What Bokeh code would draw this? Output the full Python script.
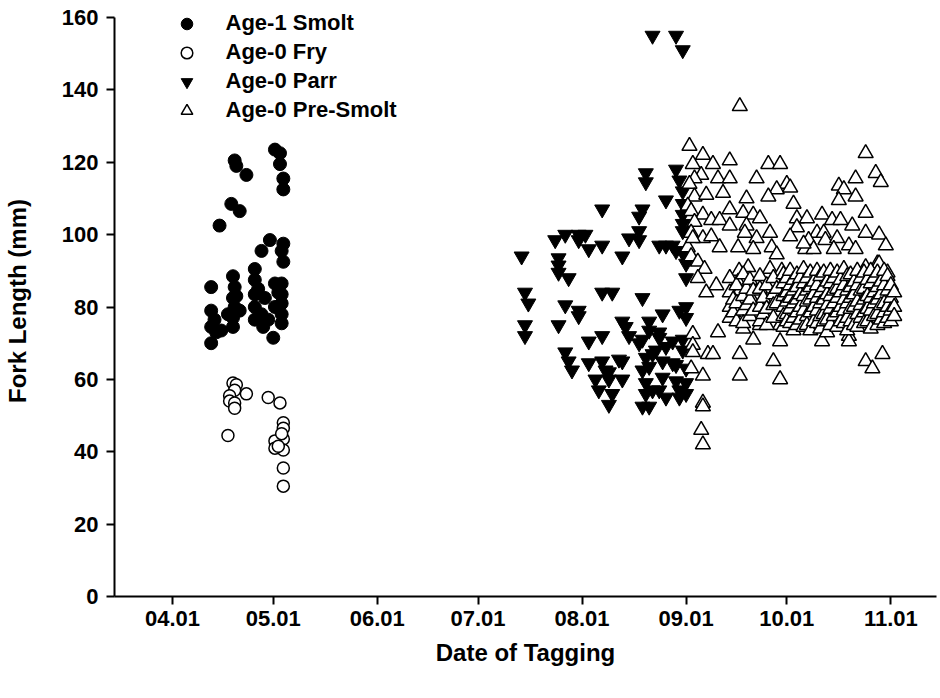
import pandas as pd
from bokeh.plotting import figure
from bokeh.models import Range1d, FixedTicker, Legend, LegendItem
from bokeh.embed import file_html
from bokeh.resources import INLINE

# ---------------- data (x = day of year, y = fork length mm) ----------------
tick_dates = ["2005-04-01", "2005-05-01", "2005-06-01", "2005-07-01",
              "2005-08-01", "2005-09-01", "2005-10-01", "2005-11-01"]
tick_labels = ["04.01", "05.01", "06.01", "07.01", "08.01", "09.01", "10.01", "11.01"]
y_ticks = [0, 20, 40, 60, 80, 100, 120, 140, 160]

smolt_pts = [
    (121.5, 123.5), (123, 122.5), (123, 119.5), (124, 115.5), (124, 112.5),
    (109.5, 120.5), (110, 119), (113, 116.5), (108.5, 108.5), (111, 106.5), (105, 102.5),
    (120, 98.5), (117.5, 95.5), (124, 97.5), (123.5, 95.5), (124, 92.5),
    (102.5, 85.5), (102.5, 79), (102.5, 74.5), (102.5, 70), (103.5, 76.5), (105.5, 73.5),
    (109, 88.5), (109.5, 85.5), (109, 82.5), (109.5, 80), (109, 77), (109, 74.5), (111, 79), (107.5, 78),
    (115.5, 90.5), (115.5, 87.5), (115.5, 83.5), (115.5, 80), (115.5, 76.5), (117.5, 78), (118.5, 82.5),
    (121.5, 86.5), (123.5, 86.5), (123.5, 83.5), (123.5, 81), (123.5, 78), (123.5, 75.5), (121.5, 80),
    (121, 71.5), (119.5, 76.5), (104, 73), (110, 83), (116.5, 85), (122.5, 84), (118, 74.5),
]

fry_pts = [
    (109, 59), (110, 58.5), (109.5, 57), (108, 55.5), (108, 54), (109.5, 53.5), (109.5, 52),
    (113, 56), (107.5, 44.5), (119.5, 55), (123, 53.5), (124, 48), (124, 46.5), (124, 43.5),
    (124, 40.5), (121.5, 43), (121.5, 41), (122.5, 41.5), (124, 35.5), (124, 30.5), (123.5, 45),
]

parr_pts = [
    (195, 94), (196, 84), (197, 81), (196, 75), (196, 72),
    (205, 98.5), (206, 93.5), (206, 91.5), (206, 89.5), (209, 88), (206, 75), (208, 80.5),
    (208, 100), (208, 67.5), (209, 65), (210, 62.5),
    (212, 100), (214, 100), (212, 98.5), (215, 96), (212, 79), (212, 77.5), (215, 70.5), (215, 64.5),
    (219, 97), (219, 107), (219, 84), (222, 84), (219, 72), (219, 65), (217, 60), (218, 57),
    (220, 62.5), (221, 60), (221, 53), (222, 56), (221, 62),
    (225, 94), (227, 99), (225, 76), (226, 74.5), (227, 72), (225, 65), (225, 60), (224, 65.5),
    (230, 98.5), (230, 101), (230, 105), (231, 107), (232, 117), (232, 114.5), (231, 82.5),
    (233, 76), (233, 73.5), (230, 70), (231, 62.5), (232, 59), (231, 52.5), (233, 52.5),
    (234, 57), (234, 67), (233, 63.5), (232, 66), (232, 56), (231, 71), (234, 155),
    (236, 97), (238, 97), (237, 78), (236, 71.5), (238, 69), (237, 65), (237, 60.5), (238, 55),
    (236, 57), (238, 109.5), (236, 73), (235, 68),
    (241, 95.5), (243, 95), (241, 118), (242, 115), (243, 112), (243, 108.5), (243, 105.5),
    (243, 103), (243, 101), (242, 79), (240, 70.5), (240, 64.5), (241, 59.5), (242, 57),
    (243, 68), (243, 71), (241, 155), (243, 151), (244, 80), (244, 77), (244, 63), (244, 59),
    (244, 56), (244, 92), (244, 88), (241, 64), (242, 55), (240, 97),
]

presmolt_pts = [
    (260, 135.5),
    (245, 124.5), (249, 122), (246, 119.5), (252, 119.5), (257, 120.5), (268.5, 119.5), (272, 119.5),
    (297.5, 122.5), (248.5, 116.5), (246.5, 115.5), (253.5, 115.5), (257, 115.5), (265, 115.5),
    (245, 114), (274, 114), (271, 112.5), (275, 113), (246.5, 110.5), (250, 111), (255, 111.5),
    (268.5, 110.5), (262, 110), (276, 108.5), (244.5, 108), (245.5, 106.5), (249, 105.5),
    (251.5, 104), (254, 104), (246.5, 103.5), (257, 107), (261, 106), (264, 105.5), (266, 104.5),
    (277, 104.5), (280, 104.5), (257, 102.5), (262, 102.5), (261.5, 100.5), (245.5, 100.5),
    (249, 99), (251.5, 99.5), (265, 99), (269, 100.5), (277, 102), (275, 99.5),
    (254, 96.5), (244.5, 96.5), (246, 99), (259.5, 96.5), (264, 96), (269.5, 96.5), (271, 94.5),
    (245.5, 94), (247.5, 92.5), (249.5, 90.5), (247.5, 88), (253, 86), (250, 84),
    (294.5, 115.5), (300.5, 117), (302, 114.5), (289.5, 113.5), (291, 112.5), (294.5, 110.5),
    (289.5, 109.5), (297.5, 106), (284.5, 105.5), (287.5, 104), (290, 104), (293.5, 102.5),
    (297.5, 100.5), (301.5, 100), (303.5, 97), (283, 100.5), (285, 100.5), (280.5, 98.5),
    (285.5, 98.5), (289, 99), (292.5, 97), (294.5, 96), (279.5, 96), (282, 96), (288, 96),
    (301, 92), (304, 89.5), (297.5, 91), (301.5, 92), (303.5, 87), (279, 97.5),
    (259.8, 90), (262.5, 91), (259.5, 87), (266, 87), (269, 90.5), (272.5, 90), (260, 84.5),
    (264, 81.5), (269, 82), (272.5, 85.5), (275, 89.5), (276.5, 86.5),
    (246, 72.5), (246, 69.5), (246, 67.5), (250.5, 67), (253.5, 73), (245.5, 63), (249, 61),
    (249, 53.5), (249, 52.5), (248.5, 46), (249, 42),
    (260, 67), (260, 61), (270, 65), (272, 60), (252, 67), (261, 74), (264, 71), (266, 75),
    (272, 70.5), (272, 75), (292.5, 72), (284.5, 70.5), (292.5, 70.5), (297.5, 65), (302.5, 67),
    (299.5, 63),
]

# dense block of pre-smolt tagging days (day of year -> lengths)
presmolt_block = {
    257: [88, 84, 80, 77], 258: [82, 78.5], 259: [86, 81, 76],
    261: [89, 83, 79, 75.5], 262: [85, 80.5], 263: [87.5, 82, 77.5], 264: [84.5, 79],
    266: [88.5, 85, 80, 76], 267: [82.5, 78], 268: [86, 79.5, 75],
    270: [88, 83.5, 80.5, 77], 271: [85, 81],
    273: [89, 86.5, 83, 80, 77.5, 74.5], 274: [88, 84, 81.5, 78, 76],
    275: [90, 86, 82.5, 79.5, 75.5], 276: [87.5, 84.5, 81, 77, 73.5],
    277: [89, 85.5, 82, 78.5, 75], 278: [88, 83.5, 80, 76.5],
    279: [90.5, 86.5, 83, 79, 74.5], 280: [88, 84.5, 81.5, 77.5, 75],
    281: [89.5, 85.5, 82, 78.5, 73.5], 282: [87, 83.5, 80, 76],
    283: [90, 86, 82.5, 79, 75.5], 284: [88.5, 84, 81, 77.5, 74],
    285: [89.5, 85.5, 82, 78, 76], 286: [87, 83.5, 80.5, 76.5, 73],
    287: [90, 86.5, 83, 79.5, 75], 288: [88, 84.5, 81, 77.5],
    289: [89.5, 85, 82.5, 78.5, 74.5], 290: [87.5, 84, 80, 76],
    291: [90.5, 86, 82, 79, 75.5], 292: [88.5, 84.5, 81, 77, 73.5],
    293: [89, 85.5, 82.5, 79.5, 76], 294: [87, 83.5, 80, 75],
    295: [90, 86, 81.5, 78, 74.5], 296: [88, 84.5, 80.5, 77],
    297: [89.5, 85, 82, 78.5, 75.5], 298: [87.5, 83, 79.5, 76],
    299: [90, 86.5, 82.5, 79, 74], 300: [88, 84, 81, 77.5],
    301: [89.5, 85.5, 82, 78, 75], 302: [87, 83.5, 80.5, 76.5],
    303: [90, 86, 81, 78.5, 75.5], 304: [88.5, 84.5, 80, 77],
    305: [86, 82.5, 79, 76], 306: [84, 80, 77.5],
}

# ---------------- build ----------------
FONT = "Liberation Sans"

def split(pts):
    return [p[0] for p in pts], [p[1] for p in pts]

smolt_x, smolt_y = split(smolt_pts)
fry_x, fry_y = split(fry_pts)
parr_x, parr_y = split(parr_pts)
pre_x, pre_y = split(presmolt_pts)
for d, vals in presmolt_block.items():
    for v in vals:
        pre_x.append(d)
        pre_y.append(v)

tick_doy = [int(pd.Timestamp(d).dayofyear) for d in tick_dates]

p = figure(width=940, height=698, output_backend="svg", toolbar_location=None,
           x_range=Range1d(73.7, 318.6), y_range=Range1d(0, 163.32),
           min_border_left=113, min_border_right=4, min_border_top=5,
           min_border_bottom=102)
p.background_fill_color = "white"
p.border_fill_color = "white"
p.outline_line_color = None
p.xgrid.grid_line_color = None
p.ygrid.grid_line_color = None

for ax in (p.xaxis[0], p.yaxis[0]):
    ax.axis_line_width = 2
    ax.axis_line_color = "black"
    ax.major_tick_line_width = 2
    ax.major_tick_line_color = "black"
    ax.major_tick_in = 0
    ax.major_tick_out = 8
    ax.minor_tick_in = 0
    ax.minor_tick_out = 0
    ax.major_label_text_font = FONT
    ax.major_label_text_font_style = "bold"
    ax.major_label_text_font_size = "22px"
    ax.major_label_text_color = "black"
    ax.axis_label_text_font = FONT
    ax.axis_label_text_font_style = "bold"
    ax.axis_label_text_font_size = "24px"
    ax.axis_label_text_color = "black"

p.xaxis.ticker = FixedTicker(ticks=tick_doy)
p.xaxis.major_label_overrides = {d: lab for d, lab in zip(tick_doy, tick_labels)}
p.xaxis.major_label_standoff = 6
p.xaxis.axis_label = "Date of Tagging"
p.xaxis.axis_label_standoff = 10

p.yaxis.ticker = FixedTicker(ticks=y_ticks)
p.yaxis.bounds = (0, 160)
p.yaxis.major_label_standoff = 8
p.yaxis.axis_label = "Fork Length (mm)"
p.yaxis.axis_label_standoff = 28

r_smolt = p.scatter(smolt_x, smolt_y, marker="circle", size=13,
                    fill_color="black", line_color="black", line_width=1)
r_fry = p.scatter(fry_x, fry_y, marker="circle", size=12,
                  fill_color="white", line_color="black", line_width=1.5)
r_parr = p.scatter(parr_x, parr_y, marker="inverted_triangle", size=15,
                   fill_color="black", line_color="black", line_width=1)
r_pre = p.scatter(pre_x, pre_y, marker="triangle", size=15,
                  fill_color="white", line_color="black", line_width=1.5)

legend = Legend(items=[
    LegendItem(label="Age-1 Smolt", renderers=[r_smolt]),
    LegendItem(label="Age-0 Fry", renderers=[r_fry]),
    LegendItem(label="Age-0 Parr", renderers=[r_parr]),
    LegendItem(label="Age-0 Pre-Smolt", renderers=[r_pre]),
], location=(55.5, 471.2))
legend.glyph_width = 33
legend.glyph_height = 29
legend.spacing = 0
legend.padding = 0
legend.margin = 0
legend.label_standoff = 23
legend.label_height = 29
legend.label_text_font = FONT
legend.label_text_font_style = "bold"
legend.label_text_font_size = "22px"
legend.label_text_color = "black"
legend.border_line_color = None
legend.background_fill_alpha = 0
p.add_layout(legend, "center")

open("out.html", "w").write(file_html(p, INLINE))
